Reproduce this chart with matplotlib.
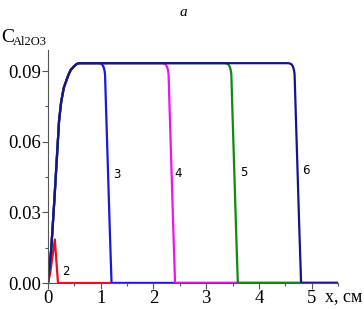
import matplotlib
matplotlib.use("Agg")
import matplotlib.pyplot as plt
import numpy as np
from matplotlib.ticker import MultipleLocator

# shared rising edge and plateau (all curves 3-6 start the same way)
rise_x = [0.0, 0.06, 0.12, 0.21, 0.25, 0.30, 0.38, 0.43, 0.49, 0.54, 0.59]
rise_y = [0.0, 0.014, 0.035, 0.069, 0.077, 0.083, 0.088, 0.0905, 0.092, 0.093, 0.0934]

# falling front, same profile for each curve
front_y = [0.0934, 0.0930, 0.0922, 0.0912, 0.0900, 0.0885, 0.075, 0.046, 0.024, 0.0]
front_x3 = [0.97, 1.02, 1.045, 1.062, 1.074, 1.082, 1.10, 1.14, 1.17, 1.205]
front_x4 = [2.175, 2.225, 2.25, 2.267, 2.279, 2.287, 2.305, 2.345, 2.375, 2.41]
front_x5 = [3.365, 3.415, 3.44, 3.457, 3.469, 3.477, 3.495, 3.535, 3.565, 3.60]
front_x6 = [4.565, 4.615, 4.64, 4.657, 4.669, 4.677, 4.695, 4.735, 4.765, 4.80]
x_end = 5.5

# curve 2: small early peak
c2_x = [0.0, 0.04, 0.09, 0.13, 0.16, 0.19, 5.5]
c2_y = [0.0, 0.004, 0.012, 0.0185, 0.009, 0.0, 0.0]

labels = ["2", "3", "4", "5", "6"]
label_x = [0.34, 1.30, 2.46, 3.71, 4.90]
label_y = [0.005, 0.046, 0.0467, 0.0468, 0.0477]
colors = ["#e8101a", "#1818e0", "#f010f0", "#108a10", "#14148c"]

fronts = [front_x3, front_x4, front_x5, front_x6]

fig = plt.figure(figsize=(3.64, 3.09), dpi=100)
ax = fig.add_axes([48 / 364, 1 - 283 / 309, 290 / 364, 233 / 309])

ax.plot(c2_x, c2_y, color=colors[0], lw=1.6)
for fx, col in zip(fronts, colors[1:]):
    xs = np.concatenate([rise_x, fx, [x_end]])
    ys = np.concatenate([rise_y, front_y, [0.0]])
    ax.plot(xs, ys, color=col, lw=1.6, solid_joinstyle="round")

for lab, lx, ly in zip(labels, label_x, label_y):
    ax.text(lx, ly, lab, fontsize=8.5, family="DejaVu Sans", va="center", ha="center")

ax.set_xlim(0, 5.5)
ax.set_ylim(0, 0.099)
ax.set_xticks([0, 1, 2, 3, 4, 5])
ax.set_yticks([0, 0.03, 0.06, 0.09])
ax.set_yticklabels(["0.00", "0.03", "0.06", "0.09"])
ax.xaxis.set_minor_locator(MultipleLocator(0.5))
ax.yaxis.set_minor_locator(MultipleLocator(0.015))
for s in ["top", "right"]:
    ax.spines[s].set_visible(False)
for s in ["left", "bottom"]:
    ax.spines[s].set_color("#555555")
    ax.spines[s].set_linewidth(0.8)
ax.tick_params(which="major", length=4, width=0.8, color="#555555",
               labelsize=13.5, pad=1)
ax.tick_params(which="minor", length=2.5, width=0.8, color="#555555")
for t in ax.get_xticklabels() + ax.get_yticklabels():
    t.set_family("Liberation Serif")
ax.margins(0)

fig.text(183 / 364, 1 - 12 / 309, "a", fontsize=11, style="italic",
         family="Liberation Serif", ha="center", va="center")
fig.text(1 / 364, 1 - 37 / 309, "C", fontsize=14, family="Liberation Serif",
         ha="left", va="center")
fig.text(13 / 364, 1 - 42 / 309, "Al2O3", fontsize=9, family="Liberation Serif",
         ha="left", va="center")
fig.text(325 / 364, 1 - 297 / 309, "x, см", fontsize=13, family="Liberation Serif",
         ha="left", va="center")

fig.savefig("out.png", dpi=100)
